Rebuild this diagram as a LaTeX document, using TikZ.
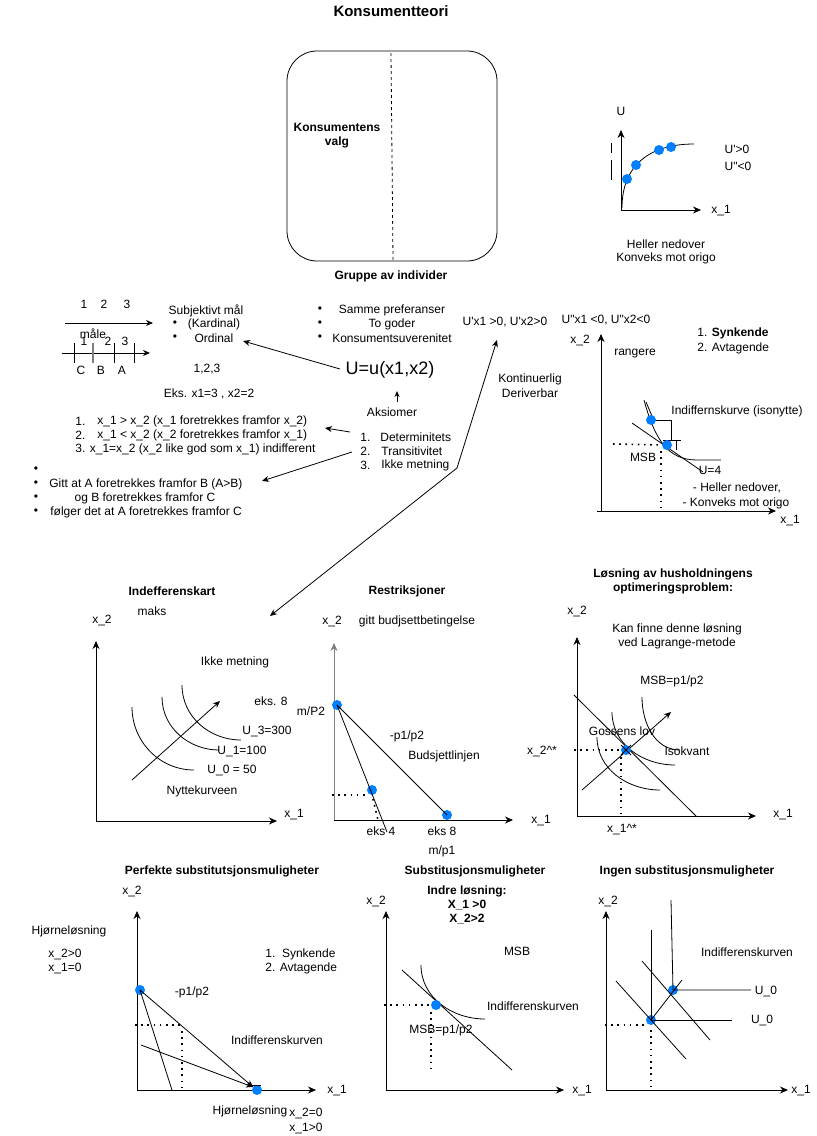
\documentclass[tikz,border=0pt]{standalone}
\usepackage{fontspec}
\setmainfont{Liberation Sans}
\usetikzlibrary{arrows.meta}
\definecolor{dotblue}{RGB}{0,127,255}
\begin{document}
\begin{tikzpicture}[x=1pt,y=-1pt,
  every node/.style={inner sep=0pt, font=\fontsize{12}{14}\selectfont},
  bt/.style={font=\fontsize{12}{14}\selectfont\bfseries},
  dot/.style={circle, fill=dotblue, inner sep=0pt, minimum size=10pt},
  arr/.style={-{Stealth[length=7pt,width=6pt]}},
  axis/.style={-{Stealth[length=8pt,width=7pt]}},
  dotln/.style={line width=1.6pt, dash pattern=on 1.6pt off 4.6pt},
  line width=0.8pt]
\fill[white] (0,0) rectangle (817,1136);
\useasboundingbox (0,0) rectangle (817,1136);

% ---------- title and box ----------
\node[font=\fontsize{15}{18}\selectfont\bfseries] (title) at (391,11) {Konsumentteori};
\node[draw, rounded corners=30pt, minimum width=210pt, minimum height=210pt] (box) at (392,156) {};
\coordinate (dsA) at (391,53); \coordinate (dsB) at (393,260);
\draw[dashed] (dsA) -- (dsB);
\node[bt, align=center] (kv) at (337,136) {Konsumentens\\valg};
\node[bt] (gai) at (391,276) {Gruppe av individer};

% ---------- top right U graph ----------
\coordinate (uo) at (621,210); \coordinate (uy) at (621,130); \coordinate (ux) at (701,210);
\draw[axis] (uo) -- (uy); \draw[axis] (uo) -- (ux);
\node (uU) at (621,111) {U};
\node (ux1) at (721,211) {x\_1};
\draw (622,208) .. controls (622,165) and (650,144) .. (694,144);
\node[dot] (ud1) at (627,179) {};
\node[dot] (ud2) at (636,165) {};
\node[dot] (ud3) at (659,150) {};
\node[dot] (ud4) at (671,147) {};
\draw (611,143) -- (611,153); \draw (611,160) -- (611,180);
\node (up1) at (737,149) {U\textquotesingle>0};
\node (up2) at (738,166) {U\textquotedbl<0};
\node (hn) at (666,244) {Heller nedover};
\node (kmo) at (666,258) {Konveks mot origo};

% ---------- number lines ----------
\node (a1) at (84,304) {1}; \node (a2) at (104,304) {2}; \node (a3) at (127,304) {3};
\coordinate (l1a) at (65,323); \coordinate (l1b) at (153,323);
\draw[arr] (l1a) -- (l1b);
\node (maale) at (93,334) {måle};
\coordinate (l2a) at (62,353); \coordinate (l2b) at (150,353);
\draw[arr] (l2a) -- (l2b);
\draw (74,343) -- (74,363);
\draw[gray, line width=1.2pt] (93,343) -- (93,363);
\draw (114,343) -- (114,363);
\draw (134,343) -- (134,363);
\node (b1) at (84,341) {1}; \node (b2) at (108,341) {2}; \node (b3) at (125,341) {3};
\node (cC) at (81,370) {C}; \node (cB) at (101,370) {B}; \node (cA) at (122,370) {A};

% ---------- subjektivt maal ----------
\node (sm) at (206,311) {Subjektivt mål};
\node (bu1) at (175,324) {•}; \node (kard) at (214,324) {(Kardinal)};
\node (bu2) at (175,338) {•}; \node (ord) at (214,338) {Ordinal};
\node (n123) at (207,369) {1,2,3};
\node (eks) at (209,394) {Eks. x1=3 , x2=2};
\node[anchor=west] (r1n) at (75,421) {1.};
\node[anchor=west] (r1) at (97,421) {x\_1 > x\_2 (x\_1 foretrekkes framfor x\_2)};
\node[anchor=west] (r2n) at (75,435) {2.};
\node[anchor=west] (r2) at (97,435) {x\_1 < x\_2 (x\_2 foretrekkes framfor x\_1)};
\node[anchor=west] (r3) at (75,449) {3. x\_1=x\_2 (x\_2 like god som x\_1) indifferent};
\node (bb0) at (36,470) {•};
\node (bb1) at (36,484) {•}; \node[anchor=west] (g1) at (49,484) {Gitt at A foretrekkes framfor B (A>B)};
\node (bb2) at (36,498) {•}; \node (g2) at (145,498) {og B foretrekkes framfor C};
\node (bb3) at (36,512) {•}; \node[anchor=west] (g3) at (50,512) {følger det at A foretrekkes framfor C};

% ---------- middle ----------
\node (mb1) at (320,310) {•}; \node (sp) at (392,310) {Samme preferanser};
\node (mb2) at (320,324) {•}; \node (tg) at (392,324) {To goder};
\node (mb3) at (320,338) {•}; \node (ks) at (392,338) {Konsumentsuverenitet};
\node[font=\fontsize{18}{21}\selectfont] (U) at (390,370) {U=u(x1,x2)};
\coordinate (uarrS) at (340,369); \coordinate (uarrE) at (243,341);
\draw[arr] (uarrS) -- (uarrE);
\coordinate (akS) at (397,402); \coordinate (akE) at (397,391);
\draw[-{Stealth[length=6pt,width=5pt]}] (akS) -- (akE);
\node (aks) at (392,412) {Aksiomer};
\node[anchor=west] (k1n) at (360,437) {1.}; \node[anchor=west] (k1) at (380,437) {Determinitets};
\node[anchor=west] (k2n) at (360,451) {2.}; \node[anchor=west] (k2) at (381,451) {Transitivitet};
\node[anchor=west] (k3n) at (360,465) {3.}; \node[anchor=west] (k3) at (381,465) {Ikke metning};
\coordinate (ar1S) at (350,432); \coordinate (ar1E) at (325,428);
\draw[arr] (ar1S) -- (ar1E);
\coordinate (ar2S) at (352,452); \coordinate (ar2E) at (262,481);
\draw[arr] (ar2S) -- (ar2E);
\coordinate (jn) at (457,468); \coordinate (jtop) at (497,340); \coordinate (jbot) at (270,616);
\draw[arr] (jn) -- (jtop);
\draw[arr] (jn) -- (jbot);
\node (upos) at (505,322) {U\textquotesingle x1 >0, U\textquotesingle x2>0};
\node (kont) at (530,379) {Kontinuerlig};
\node (deri) at (530,393) {Deriverbar};

% ---------- rangere graph ----------
\node (uneg) at (606,320) {U\textquotedbl x1 <0, U\textquotedbl x2<0};
\node (rx2) at (580,340) {x\_2};
\coordinate (ro) at (601,511); \coordinate (ryt) at (601,334); \coordinate (rxa) at (597,511); \coordinate (rxe) at (776,511);
\draw[axis] (ro) -- (ryt); \draw[axis] (rxa) -- (rxe);
\node (rx1) at (790,521) {x\_1};
\node (rang) at (635,354) {rangere};
\node[anchor=west] (syn) at (697,333) {1. \textbf{Synkende}};
\node[anchor=west] (avt) at (697,348) {2. Avtagende};
\draw (644,400) .. controls (655,440) and (668,460) .. (697,460) -- (721,460);
\draw (646,402) -- (652,416);
\coordinate (tgA) at (632,423); \coordinate (tgB) at (703,472);
\draw (tgA) -- (tgB);
\draw (651,420) -- (671,420) -- (671,440);
\draw (663,440) -- (681,440);
\draw (676,440) -- (676,450);
\node[dot] (rd1) at (651,420) {};
\node[dot] (rd2) at (667,445) {};
\coordinate (rdh) at (613,444); \coordinate (rdv) at (661,511);
\draw[dotln] (rdh) -- (rd2.west);
\draw[dotln] (661,451) -- (rdv);
\node (ind) at (737,411) {Indiffernskurve (isonytte)};
\node (msb1) at (643,457) {MSB};
\node (u4) at (710,470) {U=4};
\node (hn2) at (737,488) {- Heller nedover,};
\node (kmo2) at (736,503) {- Konveks mot origo};

% ---------- Indefferenskart ----------
\node[bt] (ikt) at (172,591) {Indefferenskart};
\node (maks) at (152,611) {maks};
\node (ix2) at (102,620) {x\_2};
\coordinate (io) at (96,821); \coordinate (iyt) at (96,641); \coordinate (ixe) at (277,821);
\draw[axis] (io) -- (iyt); \draw[axis] (io) -- (ixe);
\node (ix1) at (294,815) {x\_1};
\node (ikm) at (235,662) {Ikke metning};
\draw (132,707) to[out=-90,in=180] (194,770);
\draw (162,697) to[out=-90,in=180] (219,750);
\draw (182,685) to[out=-90,in=180] (241,740);
\coordinate (iaS) at (132,780); \coordinate (iaE) at (220,701);
\draw[arr] (iaS) -- (iaE);
\node (ie8) at (271,701) {eks. 8};
\node (iu3) at (267,731) {U\_3=300};
\node (iu1) at (242,751) {U\_1=100};
\node (iu0) at (232,770) {U\_0 = 50};
\node (nyt) at (202,791) {Nyttekurveen};

% ---------- Restriksjoner ----------
\node[bt] (rst) at (407,591) {Restriksjoner};
\node (sx2) at (332,621) {x\_2};
\node (gbb) at (417,621) {gitt budjsettbetingelse};
\coordinate (so) at (334,821); \coordinate (syt) at (334,643); \coordinate (sxe) at (513,820);
\draw[axis, gray] (so) -- (syt);
\draw[axis] (334,820) -- (sxe);
\node (sx1) at (541,821) {x\_1};
\node (mp2) at (311,711) {m/P2};
\coordinate (s4) at (387,832);
\node[dot] (sd1) at (337,705) {};
\node[dot] (sd2) at (372,790) {};
\node[dot] (sd3) at (447,815) {};
\draw (sd1.center) -- (s4);
\draw (sd1.center) -- (sd3.center);
\coordinate (sdh) at (332,795); \coordinate (sdc) at (369,795); \coordinate (sdv) at (378,820);
\draw[dotln] (sdh) -- (sdc);
\draw[dotln] (373,799) -- (sdv);
\node (sp12) at (407,736) {-p1/p2};
\node (bsl) at (444,756) {Budsjettlinjen};
\node (se4) at (381,831) {eks 4};
\node (se8) at (442,831) {eks 8};
\node (smp1) at (442,851) {m/p1};

% ---------- Loesning ----------
\node[bt, align=center] (lt) at (673,581) {Løsning av husholdningens\\optimeringsproblem:};
\node (lx2) at (577,611) {x\_2};
\node[align=center] (kan) at (677,636) {Kan finne denne løsning\\ved Lagrange-metode};
\coordinate (lo) at (577,816); \coordinate (lyt) at (577,637); \coordinate (lxe) at (756,816);
\draw[axis] (lo) -- (lyt); \draw[axis] (lo) -- (lxe);
\node (lx1) at (783,815) {x\_1};
\node (lmsb) at (672,681) {MSB=p1/p2};
\coordinate (lbA) at (574,695); \coordinate (lbB) at (696,816);
\draw (lbA) -- (lbB);
\draw (597,737) to[out=-90,in=180] (660,790);
\draw (612,712) to[out=-90,in=180] (675,765);
\draw (642,697) to[out=-90,in=180] (680,750);
\coordinate (laS) at (582,790); \coordinate (laE) at (671,712);
\draw[arr] (laS) -- (laE);
\node[dot] (ld) at (626,750) {};
\draw (621,745) -- (631,755); \draw (621,755) -- (631,745);
\node (gos) at (622,731) {Gossens lov};
\node (iso) at (687,751) {Isokvant};
\node (lx2s) at (542,751) {x\_2\textasciicircum*};
\node (lx1s) at (622,830) {x\_1\textasciicircum*};
\coordinate (ldh) at (574,750); \coordinate (ldv) at (621,816);
\draw[dotln] (ldh) -- (620,750);
\draw[dotln] (621,757) -- (ldv);

% ---------- Perfekte ----------
\node[bt] (pt) at (222,871) {Perfekte substitutsjonsmuligheter};
\node (px2) at (132,891) {x\_2};
\node (phj) at (69,931) {Hjørneløsning};
\node (px2g) at (65,954) {x\_2>0};
\node (px1e) at (65,968) {x\_1=0};
\node[anchor=west] (ps1) at (265,954) {1.\ \ Synkende};
\node[anchor=west] (ps2) at (265,968) {2. Avtagende};
\coordinate (po) at (137,1090); \coordinate (pyt) at (137,911); \coordinate (pxe) at (316,1090);
\draw[axis] (po) -- (pyt); \draw[axis] (po) -- (pxe);
\node (px1) at (337,1091) {x\_1};
\node (pp12) at (192,992) {-p1/p2};
\node (pind) at (277,1040) {Indifferenskurven};
\node (phj2) at (250,1111) {Hjørneløsning};
\node (px2e) at (306,1113) {x\_2=0};
\node (px1g) at (306,1128) {x\_1>0};
\node[dot] (pd1) at (140,990) {};
\node[dot] (pd2) at (257,1090) {};
\coordinate (pl1) at (172,1090); \coordinate (pend) at (253,1087); \coordinate (pl2) at (141,1045);
\draw (pd1.center) -- (pl1);
\draw[arr] (pd1.center) -- (pend);
\draw[arr] (pl2) -- (pend);
\draw (249,1085) -- (261,1085);
\coordinate (pdh) at (135,1025); \coordinate (pdc) at (181,1025); \coordinate (pdv) at (182,1090);
\draw[dotln] (pdh) -- (pdc);
\draw[dotln] (182,1031) -- (pdv);

% ---------- Substitusjon ----------
\node[bt] (st) at (475,871) {Substitusjonsmuligheter};
\node[bt, align=center] (ilo) at (467,905) {Indre løsning:\\X\_1 >0\\X\_2>2};
\node (tx2) at (376,901) {x\_2};
\coordinate (to) at (386,1090); \coordinate (tyt) at (386,911); \coordinate (txe) at (564,1090);
\draw[axis] (to) -- (tyt); \draw[axis] (to) -- (txe);
\node (tx1) at (582,1091) {x\_1};
\node (tmsb) at (517,951) {MSB};
\coordinate (ttA) at (402,970); \coordinate (ttB) at (512,1070);
\draw (ttA) -- (ttB);
\draw (421,965) to[out=-90,in=180] (485,1019);
\node[dot] (td) at (436,1005) {};
\coordinate (tdh) at (384,1005); \coordinate (tdv) at (431,1070);
\draw[dotln] (tdh) -- (td.west);
\draw[dotln] (431,1012) -- (tdv);
\node (tind) at (533,1006) {Indifferenskurven};
\node (tmsb2) at (441,1030) {MSB=p1/p2};

% ---------- Ingen ----------
\node[bt] (nt) at (687,871) {Ingen substitusjonsmuligheter};
\node (nx2) at (608,901) {x\_2};
\coordinate (no) at (606,1090); \coordinate (nyt) at (606,911); \coordinate (nxe) at (788,1090);
\draw[axis] (no) -- (nyt); \draw[axis] (no) -- (nxe);
\node (nx1) at (801,1091) {x\_1};
\node (nind) at (747,952) {Indifferenskurven};
\node[dot] (nd1) at (673,990) {};
\node[dot] (nd2) at (651,1020) {};
\coordinate (nv1) at (671,900); \coordinate (nh1) at (751,990);
\draw (nv1) -- (nd1.center) -- (nh1);
\coordinate (nv2) at (651,930); \coordinate (nh2) at (732,1020);
\draw (nv2) -- (nd2.center) -- (nh2);
\coordinate (ndA1) at (642,961); \coordinate (ndA2) at (710,1040);
\draw (ndA1) -- (ndA2);
\coordinate (ndB1) at (616,981); \coordinate (ndB2) at (686,1059);
\draw (ndB1) -- (ndB2);
\coordinate (nex) at (682,980);
\draw (nd2.center) -- (nex);
\node (nu0a) at (766,991) {U\_0};
\node (nu0b) at (762,1020) {U\_0};
\coordinate (ndh) at (605,1025); \coordinate (ndv) at (651,1090);
\draw[dotln] (ndh) -- (644,1025);
\draw[dotln] (651,1030) -- (ndv);
\end{tikzpicture}
\end{document}
